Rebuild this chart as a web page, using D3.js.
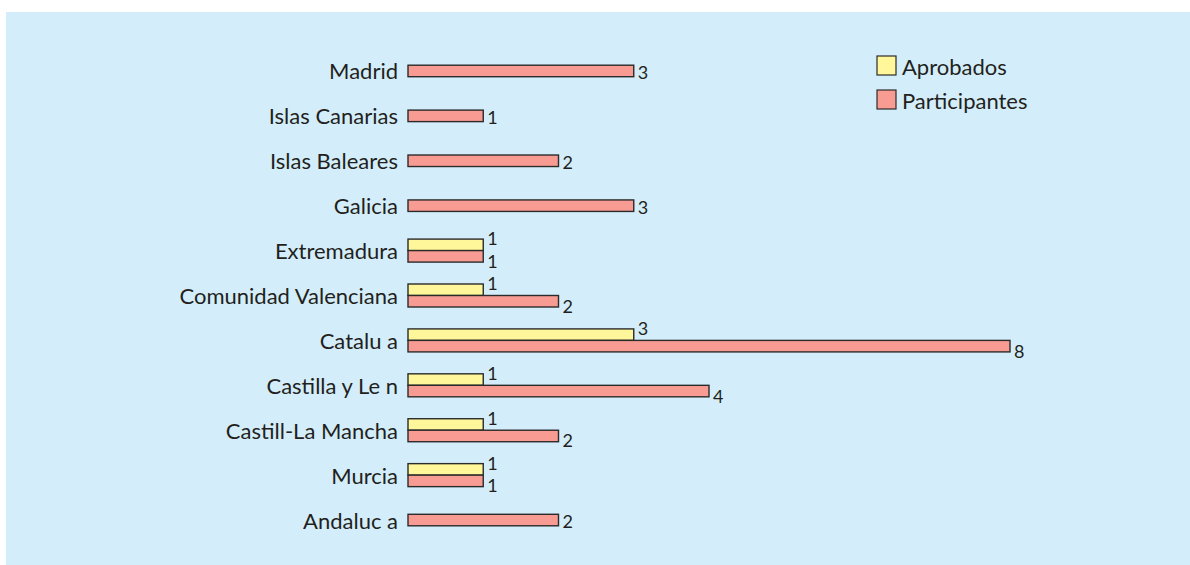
<!DOCTYPE html>
<html>
<head>
<meta charset="utf-8">
<script src="https://cdn.jsdelivr.net/npm/d3@7"></script>
<style>
  html, body { margin: 0; padding: 0; background: #ffffff; }
  svg { display: block; }
  text { font-family: Lato, "Open Sans", sans-serif; fill: #231f20; }
</style>
</head>
<body>
<svg id="chart" width="1190" height="565"></svg>
<script>
const categories = ["Madrid", "Islas Canarias", "Islas Baleares", "Galicia", "Extremadura",
  "Comunidad Valenciana", "Catalu a", "Castilla y Le n", "Castill-La Mancha", "Murcia", "Andaluc a"];
const aprobados = [null, null, null, null, 1, 1, 3, 1, 1, 1, null];
const participantes = [3, 1, 2, 3, 1, 2, 8, 4, 2, 1, 2];
const seriesNames = ["Aprobados", "Participantes"];
const seriesColors = ["#fff799", "#f89c93"];

const svg = d3.select("#chart");
const W = 1190, H = 565;

svg.append("rect").attr("x", 6).attr("y", 12).attr("width", W - 6).attr("height", H - 12)
  .attr("fill", "#d3eefa");

const x = d3.scaleLinear().domain([0, 8]).range([408, 1010]);
const y = d3.scaleBand().domain(categories).range([48.5, 542.5]).padding(0);
const barH = 11.5;
const fs = 22;
const vfs = 18;

const rows = categories.map((c, i) => ({ c, a: aprobados[i], p: participantes[i] }));

const g = svg.append("g");

rows.forEach(r => {
  const cy = y(r.c) + y.bandwidth() / 2;
  const bars = [];
  if (r.a != null) {
    bars.push({ v: r.a, y0: cy - barH, color: seriesColors[0], dy: -6.5 });
    bars.push({ v: r.p, y0: cy, color: seriesColors[1], dy: 4.5 });
  } else {
    bars.push({ v: r.p, y0: cy - barH / 2, color: seriesColors[1], dy: 1 });
  }
  bars.forEach(b => {
    g.append("rect")
      .attr("x", x(0)).attr("y", b.y0)
      .attr("width", x(b.v) - x(0)).attr("height", barH)
      .attr("fill", b.color).attr("stroke", "#2b2b2b").attr("stroke-width", 1.4);
    g.append("text")
      .attr("x", x(b.v) + 4).attr("y", b.y0 + barH / 2 + b.dy)
      .attr("dominant-baseline", "central")
      .attr("font-size", vfs)
      .text(d3.format("d")(b.v));
  });
  g.append("text")
    .attr("x", 398).attr("y", cy)
    .attr("text-anchor", "end").attr("dominant-baseline", "central")
    .attr("font-size", fs)
    .text(r.c);
});

// legend
const leg = svg.append("g");
seriesNames.forEach((n, i) => {
  const ly = 56 + i * 34;
  leg.append("rect").attr("x", 877).attr("y", ly).attr("width", 19).attr("height", 19)
    .attr("fill", seriesColors[i]).attr("stroke", "#2b2b2b").attr("stroke-width", 1.2);
  leg.append("text").attr("x", 902).attr("y", ly + 10)
    .attr("dominant-baseline", "central").attr("font-size", fs).text(n);
});
</script>
</body>
</html>
